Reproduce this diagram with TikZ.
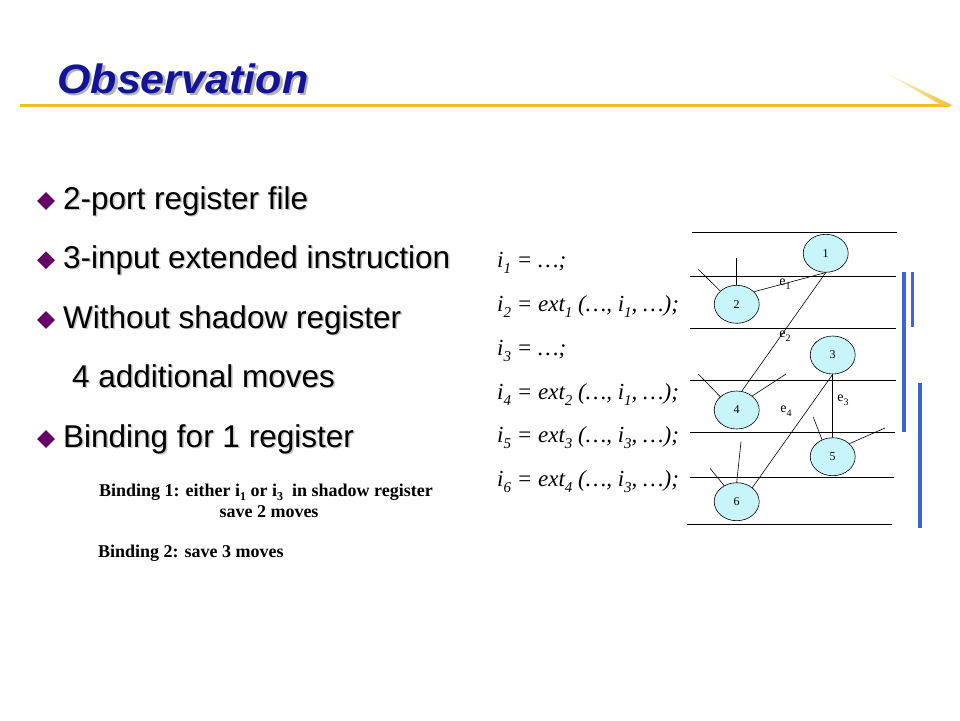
\documentclass[tikz,border=0pt]{standalone}
\usepackage{fontspec}
\setmainfont{Liberation Sans}
\newfontfamily\tnr{Liberation Serif}
\usetikzlibrary{shapes.geometric}
\definecolor{titleblue}{RGB}{20,20,150}
\definecolor{gold}{RGB}{240,190,40}
\definecolor{bulletpurple}{RGB}{102,0,102}
\definecolor{barblue}{RGB}{60,100,225}
\definecolor{nodecyan}{RGB}{200,245,250}
\newcommand{\sbs}[1]{\raisebox{-0.28em}{\fontsize{15}{15}\selectfont #1}}
\newcommand{\esbs}[1]{\raisebox{-0.28em}{\fontsize{10}{10}\selectfont #1}}
\newcommand{\bsbs}[1]{\raisebox{-0.25em}{\fontsize{12}{12}\selectfont #1}}
\tikzset{
  bullettext/.style={anchor=base west, inner sep=0pt, font=\fontsize{31.5}{36}\selectfont},
  shadowtext/.style={bullettext, text=black!22},
  codetext/.style={anchor=base west, inner sep=0pt, font=\tnr\itshape\fontsize{23}{27}\selectfont},
  bindtext/.style={anchor=base, inner sep=0pt, font=\tnr\bfseries\fontsize{18}{22}\selectfont},
  vnode/.style={ellipse, draw=black, line width=0.6pt, fill=nodecyan, minimum width=45pt, minimum height=38pt, inner sep=0pt, font=\tnr\fontsize{12}{12}\selectfont},
  regline/.style={line width=0.8pt},
  edge/.style={line width=0.6pt},
  elabel/.style={inner sep=0pt, font=\tnr\fontsize{14}{14}\selectfont},
  bar/.style={barblue, line width=3.2pt},
  bulletdia/.style={diamond, fill=bulletpurple, inner sep=0pt, minimum width=18pt, minimum height=18pt},
  titletext/.style={anchor=base west, inner sep=0pt, xscale=1.05, font=\bfseries\itshape\fontsize{41}{48}\selectfont}
}
\begin{document}
\begin{tikzpicture}[x=1pt,y=-1pt]
\useasboundingbox[fill=white] (0,0) rectangle (960,720);

% title
\node[titletext, text=black!30] at (59.5,95.8) {Observation};
\node (title) [titletext, text=titleblue] at (57,93.3) {Observation};
\draw[gold, line width=3pt] (20,105) -- (950,105);
\shade[left color=gold!15, right color=gold] (886,73) -- (953,105.5) -- (942,105.5) -- cycle;

% bullets
\foreach \y/\t in {209/2-port register file, 268.3/3-input extended instruction, 328/Without shadow register, 447/Binding for 1 register}{
  \node[bulletdia] at (46,\y-8) {};
  \node[shadowtext] at (64.5,\y+1.5) {\t};
  \node[bullettext] at (63,\y) {\t};
}
\node[shadowtext] at (73.5,388.5) {4 additional moves};
\node (moves) [bullettext] at (72,387) {4 additional moves};

% binding notes
\node (b1) [bindtext] at (266,496.3) {Binding 1: either i\bsbs{1} or i\bsbs{3}\ \ in shadow register};
\node (b1b) [bindtext] at (269,517.5) {save 2 moves};
\node (b2) [bindtext, anchor=base west] at (98,557) {Binding 2: save 3 moves};

% code
\node (c1) [codetext] at (497,267) {i\sbs{1} = …;};
\node (c2) [codetext] at (497,311) {i\sbs{2} = ext\sbs{1} (…, i\sbs{1}, …);};
\node (c3) [codetext] at (497,355) {i\sbs{3} = …;};
\node (c4) [codetext] at (497,399) {i\sbs{4} = ext\sbs{2} (…, i\sbs{1}, …);};
\node (c5) [codetext] at (497,442) {i\sbs{5} = ext\sbs{3} (…, i\sbs{3}, …);};
\node (c6) [codetext] at (497,486) {i\sbs{6} = ext\sbs{4} (…, i\sbs{3}, …);};

% register lines
\draw[regline] (692,232.7) -- (897,232.7);
\draw[regline] (690,276.7) -- (896,276.7);
\draw[regline] (690,328.3) -- (896,328.3);
\draw[regline] (690,380.7) -- (896,380.7);
\draw[regline] (690,432.3) -- (895,432.3);
\draw[regline] (690,477.7) -- (894,477.7);
\draw[regline] (687,524) -- (892,524);

% nodes
\node (n1) [vnode] at (825.7,253.3) {1};
\node (n2) [vnode] at (736.7,304.3) {2};
\node (n3) [vnode] at (832.7,355) {3};
\node (n4) [vnode] at (736.7,410) {4};
\node (n5) [vnode] at (832.7,456.7) {5};
\node (n6) [vnode] at (736.7,501.7) {6};

% free ends
\coordinate (f2a) at (698.3,269.3);
\coordinate (f2b) at (736.7,258.3);
\coordinate (f4a) at (698.3,374);
\coordinate (f4b) at (786,374);
\coordinate (f5a) at (813.3,417.3);
\coordinate (f5b) at (885,428);
\coordinate (f6a) at (710,468.3);
\coordinate (f6b) at (741,441.7);

% edges
\draw[edge] (n1.south) -- (n2.36);
\draw[edge] (n1.south) -- (n4.75);
\draw[edge] (n3.south) -- (n5.north);
\draw[edge] (n3.south) -- (n6.42);
\draw[edge] (f2a) -- (n2.141);
\draw[edge] (f2b) -- (n2.north);
\draw[edge] (f4a) -- (n4.141);
\draw[edge] (f4b) -- (n4.42);
\draw[edge] (f5a) -- (n5.122);
\draw[edge] (f5b) -- (n5.38);
\draw[edge] (f6a) -- (n6.128);
\draw[edge] (f6b) -- (n6.north);

% edge labels
\node (e1) [elabel] at (785,284) {e\esbs{1}};
\node (e2) [elabel] at (785,336) {e\esbs{2}};
\node (e3) [elabel] at (843,400) {e\esbs{3}};
\node (e4) [elabel] at (786,411) {e\esbs{4}};

% blue bars
\draw[bar] (904,271.7) -- (904,431.7);
\draw[bar] (912.3,271.7) -- (912.3,327.3);
\draw[bar] (920,383.3) -- (920,528.3);
\end{tikzpicture}
\end{document}
